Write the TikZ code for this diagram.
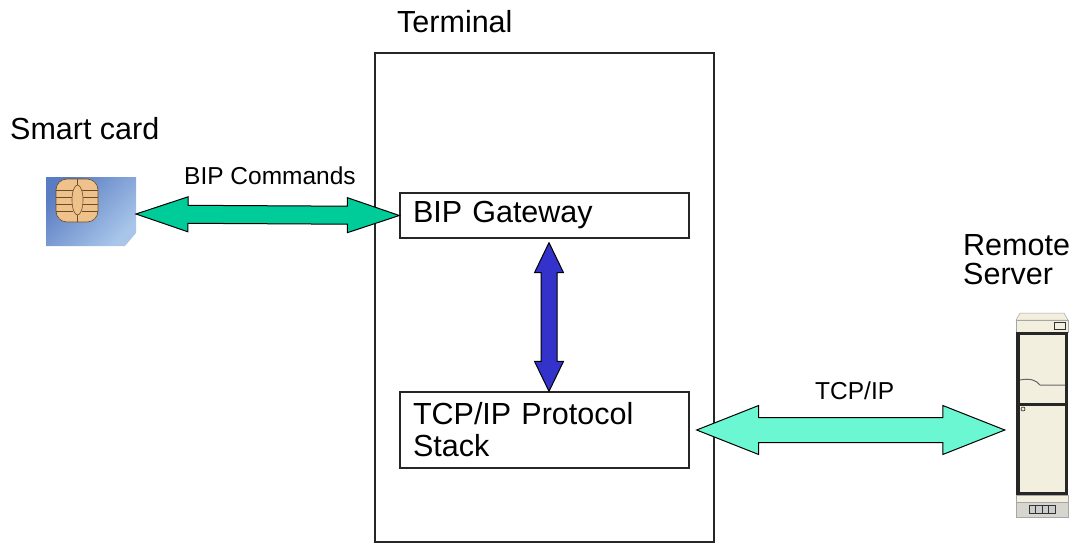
\documentclass[tikz,border=0pt]{standalone}
\usepackage{fontspec}
\setmainfont{Liberation Sans}
\usetikzlibrary{calc}
\definecolor{bipgreen}{HTML}{00CC99}
\definecolor{tcpaqua}{HTML}{6BF7D2}
\definecolor{stackblue}{HTML}{3333CC}
\definecolor{cardblue}{HTML}{5A7CC2}
\definecolor{cardlight}{HTML}{A9C6EA}
\definecolor{chipgold}{HTML}{EFC28C}
\definecolor{chipline}{HTML}{6E4B28}
\definecolor{srvbeige}{HTML}{F3EFDF}
\definecolor{srvgray}{HTML}{D6D6CE}
\newcommand{\bigfont}{\fontsize{30.5}{32}\selectfont}
\newcommand{\smallfont}{\fontsize{24.5}{26}\selectfont}
% fat double arrow: style, from, to, shaft half width, head half width, head length
\newcommand{\fatarrow}[6]{%
\draw[#1] (#2) -- ($(#2)!#6!(#3)!#5!90:(#3)$) -- ($(#2)!#6!(#3)!#4!90:(#3)$)
 -- ($(#3)!#6!(#2)!#4!-90:(#2)$) -- ($(#3)!#6!(#2)!#5!-90:(#2)$) -- (#3)
 -- ($(#3)!#6!(#2)!#5!90:(#2)$) -- ($(#3)!#6!(#2)!#4!90:(#2)$)
 -- ($(#2)!#6!(#3)!#4!-90:(#3)$) -- ($(#2)!#6!(#3)!#5!-90:(#3)$) -- cycle;}

\begin{document}
\begin{tikzpicture}[x=1pt,y=-1pt,
  box/.style={draw=black!85, line width=1.3pt, inner sep=0pt},
  txtbox/.style={box, align=left, inner xsep=13pt, text width=263pt, font=\bigfont},
  lbl/.style={inner sep=0pt, anchor=base west, font=\bigfont},
  flow/.style={draw=black, line width=1pt}]
\useasboundingbox (0,0) rectangle (1075,543);
%---------------------------------------------------
\node[box, minimum width=339pt, minimum height=489pt] (term) at (544.5,297.5) {};
\node[txtbox, minimum height=45pt] (gw) at (544.5,215.5) {BIP Gateway};
\node[txtbox, minimum height=76pt] (tcp) at (544.5,430) {TCP/IP Protocol\\Stack};
\node[inner sep=0pt, minimum width=52pt, minimum height=204pt] (srv) at (1042,415) {};
%---------------------------------------------------
\node[lbl] (termlbl) at (397,33) {Terminal};
\node[lbl] (cardlbl) at (10,139) {Smart card};
\node[lbl, anchor=north west, align=left, font=\fontsize{30.5}{29}\selectfont] (srvlbl) at (963,234.2) {Remote\\Server};
\node[lbl, font=\smallfont] (biplbl) at (184,184) {BIP Commands};
\node[lbl, font=\smallfont] (tcplbl) at (815,399) {TCP/IP};
%--------------------------------------------------
% smart card
\shade[top color=cardblue, bottom color=cardlight, shading angle=45]
  (46,177) -- (136,177) -- (136,233) -- (125,246) -- (46,246) -- cycle;
\draw[chipline, fill=chipgold, rounded corners=11pt, line width=0.6pt] (56,179) rectangle (98,222);
\foreach \yy in {190,197,204,211}{
  \draw[chipline, line width=0.6pt] (56,\yy) -- (73,\yy);
  \draw[chipline, line width=0.6pt] (82,\yy) -- (98,\yy);}
\draw[chipline, line width=0.6pt] (77.5,179) -- (77.5,186) (77.5,214) -- (77.5,222);
\draw[chipline, fill=chipgold, line width=0.6pt] (77.5,200) ellipse [x radius=5.5pt, y radius=15pt];
\coordinate (cardtip) at (136,214);
%--------------------------------------------------
% server
\draw[gray!70, fill=srvbeige, line width=0.5pt] (1016,320) -- (1020,313) -- (1064,313) -- (1068,320) -- cycle;
\draw[gray!70, fill=srvbeige, line width=0.5pt] (1016,320) rectangle (1068,332);
\draw[black!80, fill=srvbeige, line width=0.6pt] (1054,322) rectangle (1065,329);
\fill[black!85] (1016,332) rectangle (1068,495);
\fill[srvbeige] (1020,335) rectangle (1065,403);
\fill[srvbeige] (1020,406) rectangle (1065,492);
\draw[black!60, line width=1pt] (1020,380) .. controls (1030,378) and (1036,380) .. (1040,385) -- (1065,385);
\draw[black, fill=srvbeige, line width=0.5pt] (1023,409) circle (2pt);
\draw[gray!70, fill=srvbeige, line width=0.5pt] (1016,495) rectangle (1068,502);
\draw[gray!70, fill=srvgray, line width=0.5pt] (1016,502) rectangle (1068,517);
\draw[black!80, fill=gray!40, line width=0.6pt] (1029,505) rectangle (1055,513);
\foreach \xx in {1035.5,1042,1048.5} \draw[black!80, line width=0.6pt] (\xx,505) -- (\xx,513);
%--------------------------------------------------
% arrows
\coordinate (gwlow) at ([xshift=4.5pt,yshift=-4pt]gw.south);
\coordinate (tcptop) at ([xshift=4.5pt]tcp.north);
\coordinate (tcpright) at ([xshift=7pt]tcp.east);
\coordinate (srvtip) at ([xshift=-11pt]srv.west |- tcp.east);
\fatarrow{flow, fill=bipgreen}{cardtip}{gw.west}{9pt}{17.5pt}{52pt}
\fatarrow{flow, fill=stackblue}{gwlow}{tcptop}{8pt}{14.5pt}{30pt}
\fatarrow{flow, fill=tcpaqua}{tcpright}{srvtip}{12.5pt}{24.5pt}{62pt}
\end{tikzpicture}
\end{document}
